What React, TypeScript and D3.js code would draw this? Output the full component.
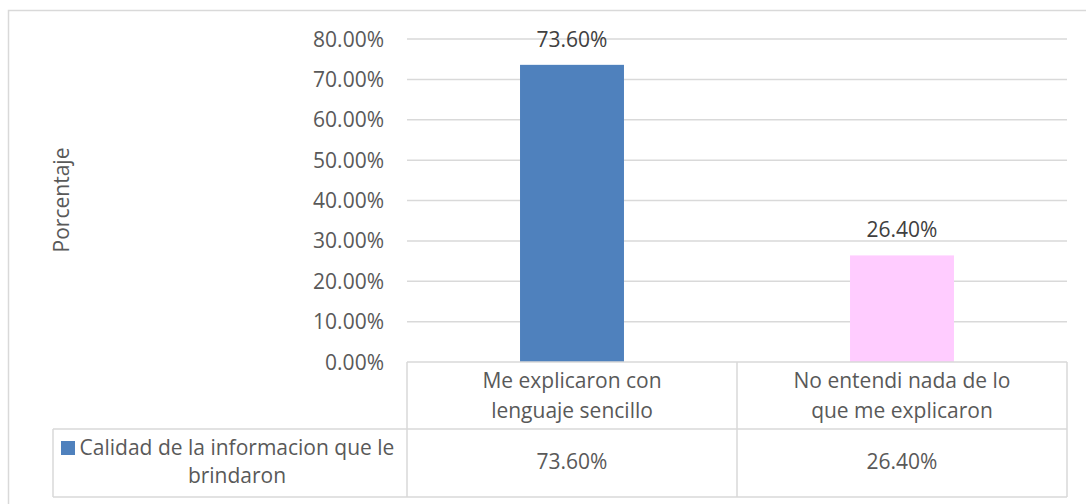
import * as d3 from "d3";

// chart data
const categories = [
  ["Me explicaron con", "lenguaje sencillo"],
  ["No entendi nada de lo", "que me explicaron"],
];
const values = [0.736, 0.264];
const barColors = ["#4F81BD", "#FFCCFF"];
const seriesName = ["Calidad de la informacion que le", "brindaron"];
const yTicks = [0, 0.1, 0.2, 0.3, 0.4, 0.5, 0.6, 0.7, 0.8];
const yTitle = "Porcentaje";

const W = 1086;
const H = 504;
const FONT = "'Open Sans', 'Liberation Sans', sans-serif";
const FS = 21;
const TEXT = "#595959";
const GRID = "#d9d9d9";

export default function App() {
  const plot = { left: 407, right: 1067, top: 39, bottom: 362 };
  const rowDivider = 429;
  const tableBottom = 497;
  const legendLeft = 53;

  const x = d3
    .scaleBand<number>()
    .domain(values.map((_, i) => i))
    .range([plot.left, plot.right])
    .padding(0);
  const y = d3.scaleLinear().domain([0, 0.8]).range([plot.bottom, plot.top]);
  const fmt = d3.format(".2%");
  const barW = x.bandwidth() * 0.315;

  return (
    <svg
      width={W}
      height={H}
      style={{ position: "absolute", left: 0, top: 0, background: "#fff" }}
      fontFamily={FONT}
    >
      {/* outer chart border */}
      <rect x={8.5} y={10.5} width={1090} height={510} fill="none" stroke={GRID} strokeWidth={1.5} />

      {/* grid */}
      {yTicks.slice(1).map((t) => (
        <line key={t} x1={plot.left} x2={plot.right} y1={y(t)} y2={y(t)} stroke={GRID} strokeWidth={1.5} />
      ))}

      {/* y tick labels */}
      {yTicks.map((t) => (
        <text key={t} x={384} y={y(t)} dy="0.36em" textAnchor="end" fontSize={FS} fill={TEXT}>
          {fmt(t)}
        </text>
      ))}

      {/* y title */}
      <text
        transform={`translate(69,200) rotate(-90)`}
        textAnchor="middle"
        fontSize={FS}
        fill={TEXT}
      >
        {yTitle}
      </text>

      {/* bars */}
      {values.map((v, i) => {
        const cx = (x(i) as number) + x.bandwidth() / 2;
        return (
          <g key={i}>
            <rect x={cx - barW / 2} y={y(v)} width={barW} height={y(0) - y(v)} fill={barColors[i]} />
            <text x={cx} y={y(v) - 18} textAnchor="middle" fontSize={FS} fill="#404040">
              {fmt(v)}
            </text>
          </g>
        );
      })}

      {/* data table lines */}
      <g stroke={GRID} strokeWidth={1.5}>
        <line x1={plot.left} x2={plot.right} y1={plot.bottom} y2={plot.bottom} />
        <line x1={legendLeft} x2={plot.right} y1={rowDivider} y2={rowDivider} />
        <line x1={legendLeft} x2={plot.right} y1={tableBottom} y2={tableBottom} />
        <line x1={legendLeft} x2={legendLeft} y1={rowDivider} y2={tableBottom} />
        {values.map((_, i) => (
          <line key={i} x1={x(i)} x2={x(i)} y1={plot.bottom} y2={tableBottom} />
        ))}
        <line x1={plot.right} x2={plot.right} y1={plot.bottom} y2={tableBottom} />
      </g>

      {/* category labels and values */}
      {categories.map((lines, i) => {
        const cx = (x(i) as number) + x.bandwidth() / 2;
        return (
          <g key={i} fontSize={FS} fill={TEXT} textAnchor="middle">
            {lines.map((l, j) => (
              <text key={j} x={cx} y={388 + j * 30}>
                {l}
              </text>
            ))}
            <text x={cx} y={469}>
              {fmt(values[i])}
            </text>
          </g>
        );
      })}

      {/* legend cell */}
      <rect x={61} y={441} width={14} height={14} fill={barColors[0]} />
      {seriesName.map((l, j) => (
        <text key={j} x={237} y={455 + j * 28} textAnchor="middle" fontSize={FS} fill={TEXT}>
          {l}
        </text>
      ))}
    </svg>
  );
}
